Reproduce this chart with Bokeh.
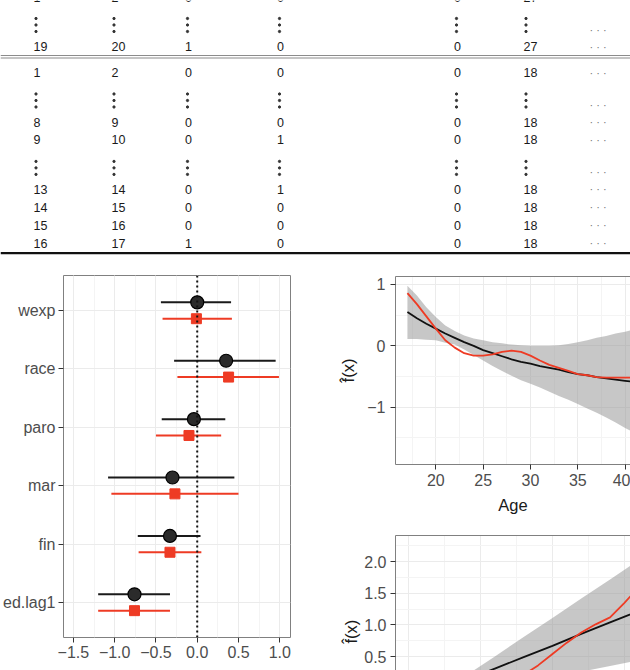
import math
from bokeh.plotting import figure
from bokeh.layouts import column, row
from bokeh.models import (Range1d, SingleIntervalTicker, FixedTicker, LinearAxis,
                          Span, Title)
from bokeh.core.properties import value
from bokeh.embed import file_html
from bokeh.resources import INLINE

# ------------------------------------------------------------------ data
# table (None = vertical ellipsis row)
tbl_rows = [
    ["1", "2", "0", "0", "0", "27"],
    None,
    ["19", "20", "1", "0", "0", "27"],
    "double",
    ["1", "2", "0", "0", "0", "18"],
    None,
    ["8", "9", "0", "0", "0", "18"],
    ["9", "10", "0", "1", "0", "18"],
    None,
    ["13", "14", "0", "1", "0", "18"],
    ["14", "15", "0", "0", "0", "18"],
    ["15", "16", "0", "0", "0", "18"],
    ["16", "17", "1", "0", "0", "18"],
    "thick",
]
more_text = "· · ·"

# forest plot
coef_names = ["wexp", "race", "paro", "mar", "fin", "ed.lag1"]
black_est = [0.00, 0.35, -0.04, -0.30, -0.33, -0.76]
black_lo = [-0.44, -0.28, -0.43, -1.08, -0.72, -1.20]
black_hi = [0.41, 0.95, 0.34, 0.45, 0.04, -0.33]
red_est = [-0.01, 0.38, -0.10, -0.27, -0.33, -0.76]
red_lo = [-0.42, -0.24, -0.50, -1.04, -0.71, -1.20]
red_hi = [0.42, 0.99, 0.29, 0.50, 0.05, -0.33]
ref_value = 0.0
forest_ticks = [-1.5, -1.0, -0.5, 0.0, 0.5, 1.0]
forest_tick_labels = ["\u22121.5", "\u22121.0", "\u22120.5", "0.0", "0.5", "1.0"]

# age smooth
ages = [17, 18, 19, 20, 21, 22, 23, 24, 25, 26, 27, 28, 29, 30, 31, 32, 33, 34,
        35, 36, 37, 38, 39, 40, 41]
age_fit = [0.55, 0.45, 0.36, 0.28, 0.20, 0.13, 0.06, 0.00, -0.07, -0.12, -0.17,
           -0.22, -0.26, -0.29, -0.33, -0.36, -0.39, -0.43, -0.46, -0.48, -0.51,
           -0.53, -0.55, -0.57, -0.59]
age_upper = [0.98, 0.82, 0.63, 0.47, 0.33, 0.24, 0.17, 0.12, 0.09, 0.06, 0.04,
             0.02, 0.01, 0.00, 0.00, 0.00, 0.01, 0.03, 0.06, 0.09, 0.13, 0.16,
             0.20, 0.23, 0.27]
age_lower = [0.11, 0.11, 0.10, 0.09, 0.05, 0.02, -0.06, -0.15, -0.24, -0.33, -0.41,
             -0.49, -0.56, -0.62, -0.68, -0.75, -0.82, -0.88, -0.95, -1.02, -1.09,
             -1.17, -1.25, -1.34, -1.42]
age_spline = [0.86, 0.68, 0.48, 0.28, 0.09, -0.03, -0.12, -0.16, -0.16, -0.14, -0.10,
              -0.08, -0.10, -0.16, -0.24, -0.31, -0.36, -0.41, -0.46, -0.48, -0.51,
              -0.52, -0.52, -0.52, -0.52]
age_yticks = [-1, 0, 1]
age_ytick_labels = ["\u22121", "0", "1"]

# prio smooth
prio = [0, 2, 4, 6, 8, 10, 12, 14, 16]
prio_fit = [-0.24, -0.06, 0.13, 0.31, 0.49, 0.67, 0.86, 1.04, 1.22]
prio_upper = [0.02, 0.06, 0.20, 0.50, 0.81, 1.11, 1.42, 1.72, 2.03]
prio_lower = [-0.50, -0.16, 0.03, 0.09, 0.14, 0.19, 0.26, 0.35, 0.44]
prio_sx = [0, 2, 4, 6, 7, 8, 9, 10, 11, 12, 13, 14, 15, 16]
prio_spline = [-0.30, -0.25, -0.15, -0.05, 0.08, 0.21, 0.36, 0.54, 0.72, 0.88, 1.01,
               1.12, 1.35, 1.60]
prio_yticks = [0.5, 1.0, 1.5, 2.0]
prio_ytick_labels = ["0.5", "1.0", "1.5", "2.0"]

# ------------------------------------------------------------------ styles
FONT = "Liberation Sans"
RED = "#EE3B24"
BORDER = "#808080"
GRID_MAJ = "#EBEBEB"
GRID_MIN = "#F4F4F4"
TICK_COL = "#4D4D4D"
TITLE_COL = "#1A1A1A"
HAT_F = "f\u0302(x)"


def style_axis(ax, line=True):
    ax.major_label_text_font = FONT
    ax.major_label_text_font_size = "16px"
    ax.major_label_text_color = TICK_COL
    ax.major_tick_out = 5
    ax.major_tick_in = 0
    ax.major_tick_line_color = "#333333"
    ax.minor_tick_line_color = None
    ax.axis_line_color = BORDER if line else None
    ax.axis_label_text_font = FONT
    ax.axis_label_text_font_size = "16.5px"
    ax.axis_label_text_font_style = "normal"
    ax.axis_label_text_color = TITLE_COL


def top_border(p):
    ax = LinearAxis(ticker=FixedTicker(ticks=[]), axis_line_color=BORDER,
                    major_tick_line_color=None, minor_tick_line_color=None,
                    major_label_text_font_size="0px")
    p.add_layout(ax, "above")


# ------------------------------------------------------------------ table
TW, TH = 630, 258
col_x = [33, 111, 184.5, 276.5, 453.5, 523]
more_x = 589
tbl = figure(width=TW, height=TH, x_range=Range1d(0, TW), y_range=Range1d(TH, 0),
             output_backend="svg", toolbar_location=None,
             min_border_left=0, min_border_right=0, min_border_top=0, min_border_bottom=0)
tbl.axis.visible = False
tbl.grid.visible = False
tbl.outline_line_color = None

tx, ty, tt = [], [], []
mx, my = [], []
dx, dy = [], []
rules = []
cursor = -3.5
last_y = cursor
for item in tbl_rows:
    if isinstance(item, list):
        for cx, s in zip(col_x, item):
            tx.append(cx); ty.append(cursor); tt.append(s)
        mx.append(more_x); my.append(cursor)
        last_y = cursor
        cursor += 17.9
    elif item is None:
        for cx in col_x:
            for off in (21.5, 28.0, 34.5):
                dx.append(cx + 2.5); dy.append(last_y + off)
        mx.append(more_x); my.append(last_y + 32.5)
        cursor = last_y + 49.5
    elif item == "double":
        rules.append((last_y + 9.0, "#8C8C8C", 1.2))
        rules.append((last_y + 11.5, "#8C8C8C", 1.2))
        cursor = last_y + 26
    elif item == "thick":
        rules.append((last_y + 10.0, "#111111", 2.2))

tbl.text(x=tx, y=ty, text=tt, text_font=value(FONT), text_font_size="12.5px",
         text_baseline="middle", text_align="left", text_color="#1A1A1A")
tbl.text(x=mx, y=my, text=[more_text] * len(mx), text_font=value(FONT),
         text_font_size="11px", text_baseline="middle", text_align="left",
         text_color="#777777")
tbl.scatter(x=dx, y=dy, marker="circle", size=2.3, color="#333333")
for ry, rc, rw in rules:
    tbl.line(x=[0, TW], y=[ry, ry], line_color=rc, line_width=rw)

# ------------------------------------------------------------------ forest
n = len(coef_names)
ypos = list(range(n, 0, -1))
DODGE = 0.14
fp = figure(width=325, height=412, x_range=Range1d(-1.62, 1.13),
            y_range=Range1d(0.4, n + 0.6), output_backend="svg",
            toolbar_location=None, min_border_left=60, min_border_right=35,
            min_border_top=17, min_border_bottom=33)
fp.outline_line_color = BORDER
fp.xaxis.ticker = SingleIntervalTicker(interval=0.5, num_minor_ticks=2)
fp.xaxis.major_label_overrides = dict(zip(forest_ticks, forest_tick_labels))
fp.yaxis.ticker = FixedTicker(ticks=ypos)
fp.yaxis.major_label_overrides = dict(zip(ypos, coef_names))
for ax in fp.axis:
    style_axis(ax, line=False)
fp.xaxis.major_label_standoff = 3
fp.yaxis.major_label_standoff = 3
fp.xgrid.grid_line_color = GRID_MAJ
fp.xgrid.minor_grid_line_color = GRID_MIN
fp.ygrid.grid_line_color = GRID_MAJ

fp.add_layout(Span(location=ref_value, dimension="height", line_color="#111111",
                   line_dash="2 3", line_width=2))
yb = [y + DODGE for y in ypos]
yr = [y - DODGE for y in ypos]
fp.segment(x0=black_lo, y0=yb, x1=black_hi, y1=yb, line_color="#1A1A1A", line_width=2)
fp.segment(x0=red_lo, y0=yr, x1=red_hi, y1=yr, line_color=RED, line_width=2)
fp.scatter(x=black_est, y=yb, marker="circle", size=13, fill_color="#2B2B2B",
           line_color="#000000", line_width=1.2)
fp.scatter(x=red_est, y=yr, marker="square", size=10, fill_color=RED, line_color=RED)

# ------------------------------------------------------------------ age smooth
af = figure(width=305, height=258, x_range=Range1d(15.74, 40.57),
            y_range=Range1d(-1.935, 1.13), output_backend="svg",
            toolbar_location=None, min_border_left=57, min_border_right=0,
            min_border_top=18, min_border_bottom=52)
af.outline_line_color = None
af.xaxis.ticker = SingleIntervalTicker(interval=5, num_minor_ticks=2)
af.yaxis.ticker = SingleIntervalTicker(interval=1, num_minor_ticks=2)
af.yaxis.major_label_overrides = dict(zip(age_yticks, age_ytick_labels))
for ax in af.axis:
    style_axis(ax)
af.xaxis.axis_label = "Age"
af.yaxis.axis_label = HAT_F
af.xaxis.major_label_standoff = 4
af.xaxis.axis_label_standoff = 7
af.yaxis.major_label_standoff = 5
af.yaxis.axis_label_standoff = 7
af.grid.grid_line_color = GRID_MAJ
af.grid.minor_grid_line_color = GRID_MIN
top_border(af)
af.varea(x=ages, y1=age_lower, y2=age_upper, fill_color="#999999", fill_alpha=0.55)
af.line(ages, age_fit, line_color="#111111", line_width=1.8)
af.line(ages, age_spline, line_color=RED, line_width=1.8)

# ------------------------------------------------------------------ prio smooth
pf = figure(width=305, height=154, x_range=Range1d(-0.9, 15.42),
            y_range=Range1d(0.279, 2.416), output_backend="svg",
            toolbar_location=None, x_axis_location=None, min_border_left=70,
            min_border_right=0, min_border_top=19, min_border_bottom=0)
pf.outline_line_color = None
pf.yaxis.ticker = SingleIntervalTicker(interval=0.5, num_minor_ticks=2)
pf.yaxis.major_label_overrides = dict(zip(prio_yticks, prio_ytick_labels))
for ax in pf.yaxis:
    style_axis(ax)
pf.yaxis.major_label_standoff = 4
pf.xgrid.ticker = SingleIntervalTicker(interval=5, num_minor_ticks=2)
pf.grid.grid_line_color = GRID_MAJ
pf.grid.minor_grid_line_color = GRID_MIN
top_border(pf)
pf.add_layout(Title(text=HAT_F, align="left", offset=27, standoff=4,
                    text_font=FONT, text_font_size="16.5px", text_font_style="normal",
                    text_color=TITLE_COL), "left")
pf.varea(x=prio, y1=prio_lower, y2=prio_upper, fill_color="#999999", fill_alpha=0.55)
pf.line(prio, prio_fit, line_color="#111111", line_width=1.8)
pf.line(prio_sx, prio_spline, line_color=RED, line_width=1.8)

layout = column(tbl, row(fp, column(af, pf)))
open("out.html", "w").write(file_html(layout, INLINE))
